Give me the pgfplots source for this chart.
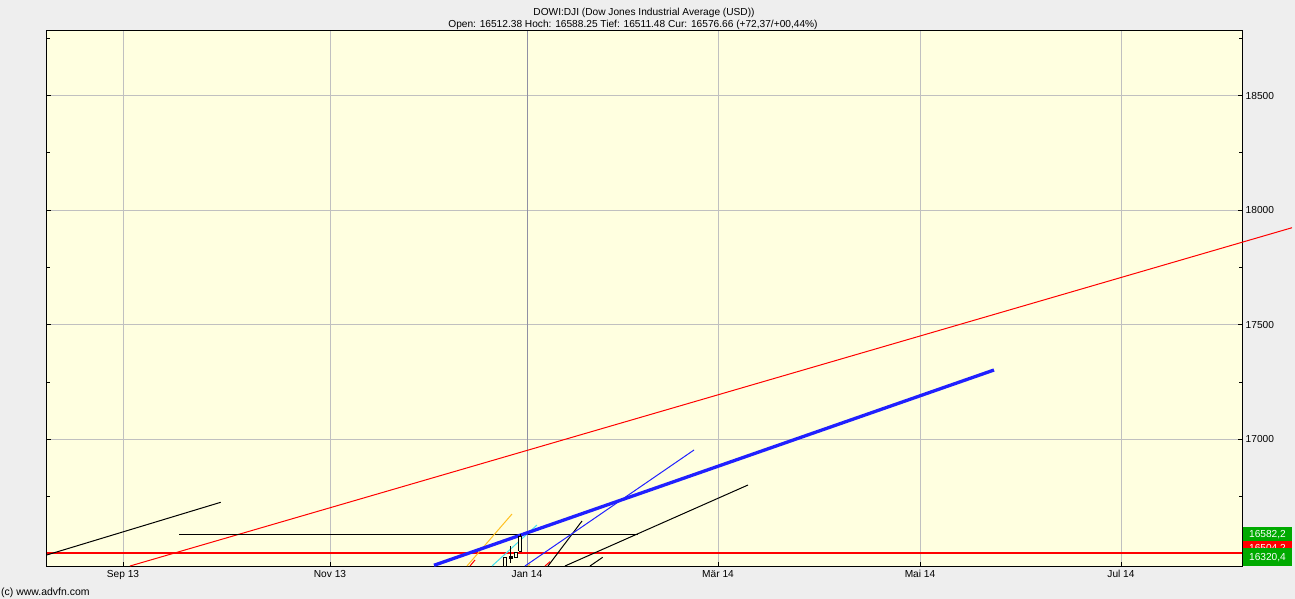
\documentclass[border=0pt]{standalone}
\usepackage{fontspec}
\setmainfont{Liberation Sans}
\usepackage{pgfplots}
\pgfplotsset{compat=1.18}
\definecolor{bgyellow}{HTML}{FFFFE0}
\definecolor{bggray}{HTML}{EEEEEE}
\definecolor{gridgray}{HTML}{C0C0C0}
\definecolor{jangray}{HTML}{9090A4}
\definecolor{tlblue}{HTML}{2020FF}
\definecolor{tlorange}{HTML}{FFC020}
\definecolor{tlcyan}{HTML}{40E0F0}
\definecolor{lblgreen}{HTML}{00AA00}
\begin{document}
\begin{tikzpicture}
\fill[bggray] (-46.7bp,-33bp) rectangle (1248.3bp,566bp);
\begin{axis}[
  x=1bp, y=0.22907bp,
  xmin=46.7, xmax=1242, ymin=16446.9, ymax=18783.7,
  axis background/.style={fill=bgyellow},
  clip=false,
  scaled y ticks=false,
  xtick={123,330,527,718,920,1121},
  xticklabels={Sep 13, Nov 13, Jan 14, Mär 14, Mai 14, Jul 14},
  xtick pos=left,
  ytick={17000,17500,18000,18500},
  minor ytick={16750,17250,17750,18250,18750},
  yticklabel pos=right,
  ytick pos=both,
  tick align=inside,
  xmajorgrids, ymajorgrids,
  major grid style={color=gridgray, line width=1bp},
  axis line style={line width=1bp, black},
  tick style={line width=1bp, black},
  major tick length=4bp, minor tick length=3bp,
  ticklabel style={font=\fontsize{10.2}{12}\selectfont, inner sep=0pt},
  xticklabel style={anchor=base, yshift=-11.3bp},
  yticklabel style={anchor=base west, xshift=3.5bp, yshift=-3.6bp},
  /pgf/number format/1000 sep={},
  /pgf/number format/assume math mode=true,
]
% darker vertical line at Jan 14
\addplot[jangray, line width=1bp] coordinates {(527,16446.9) (527,18783.7)};
% red horizontal
\addplot[red, line width=1.7bp] coordinates {(46.7,16504.2) (1242,16504.2)};
% red trend line (extends beyond axis)
\addplot[red, line width=1bp] coordinates {(130,16446.9) (1292,17923.7)};
% black lines
\addplot[black, line width=1bp] coordinates {(46.7,16494.9) (220.7,16725.0)};
\addplot[black, line width=1.2bp] coordinates {(179.3,16585.3) (638.3,16585.3)};
\addplot[black, line width=1bp] coordinates {(548,16446.9) (582,16643.3)};
\addplot[black, line width=1bp] coordinates {(565,16446.9) (748,16800.5)};
\addplot[black, line width=1bp] coordinates {(590,16446.9) (602.7,16484.9)};
% orange, cyan, small red
\addplot[tlorange, line width=1bp] coordinates {(467,16446.9) (512,16673.9)};
\addplot[red, line width=1bp] coordinates {(470,16446.9) (475,16473.0)};
\addplot[tlcyan, line width=1bp] coordinates {(492,16446.9) (537,16625.9)};
\addplot[red, line width=1bp] coordinates {(545,16446.9) (550,16465.7)};
\addplot[tlorange, line width=1bp] coordinates {(528,16446.9) (530,16455.0)};
% blue lines
\addplot[tlblue, line width=1bp] coordinates {(525,16446.9) (694,16953.3)};
\addplot[tlblue, line width=3.3bp] coordinates {(434,16450.0) (994,17302.5)};
% candles: wicks
\addplot[black, line width=1bp] coordinates {(510.8,16461.3) (510.8,16534.2)};
\addplot[black, line width=1bp] coordinates {(520.3,16511.48) (520.3,16588.25)};
% candle bodies
\addplot[draw=black, fill=bgyellow, line width=1bp] coordinates {(503.5,16446.9) (506.5,16446.9) (506.5,16483.1) (503.5,16483.1) (503.5,16446.9)};
\addplot[draw=black, fill=black, line width=1bp] coordinates {(509.3,16478.8) (512.3,16478.8) (512.3,16490.5) (509.3,16490.5) (509.3,16478.8)};
\addplot[draw=black, fill=bgyellow, line width=1bp] coordinates {(514.7,16483.1) (517.7,16483.1) (517.7,16506.7) (514.7,16506.7) (514.7,16483.1)};
\addplot[draw=black, fill=bgyellow, line width=1bp] coordinates {(518.8,16512.38) (521.8,16512.38) (521.8,16576.66) (518.8,16576.66) (518.8,16512.38)};
\end{axis}
% value labels on the right
\fill[lblgreen] (1196.6bp,25bp) rectangle (1245bp,39bp);
\node[anchor=base, inner sep=0pt, text=white, font=\fontsize{10.2}{12}\selectfont] at (1220.8bp,28.4bp) {16582,2};
\fill[red] (1196.6bp,11bp) rectangle (1245bp,25bp);
\node[anchor=base, inner sep=0pt, text=white, font=\fontsize{10.2}{12}\selectfont] at (1220.8bp,14.4bp) {16504,2};
\fill[lblgreen] (1196.6bp,0bp) rectangle (1245bp,18bp);
\node[anchor=base, inner sep=0pt, text=white, font=\fontsize{10.2}{12}\selectfont] at (1220.8bp,5.4bp) {16320,4};
% titles
\node[anchor=base, inner sep=0pt, font=\fontsize{10.2}{12}\selectfont] at (597.3bp,550bp) {DOWI:DJI (Dow Jones Industrial Average (USD))};
\node[anchor=base, inner sep=0pt, font=\fontsize{10.2}{12}\selectfont] at (586.3bp,538.5bp) {Open: 16512.38 Hoch: 16588.25 Tief: 16511.48 Cur: 16576.66 (+72,37/+00,44\%)};
\node[anchor=base west, inner sep=0pt, font=\fontsize{10.5}{12}\selectfont] at (-45.7bp,-29.5bp) {(c) www.advfn.com};
\pgfresetboundingbox
\useasboundingbox (-46.7bp,-33bp) rectangle (1248.3bp,566bp);
\end{tikzpicture}
\end{document}
